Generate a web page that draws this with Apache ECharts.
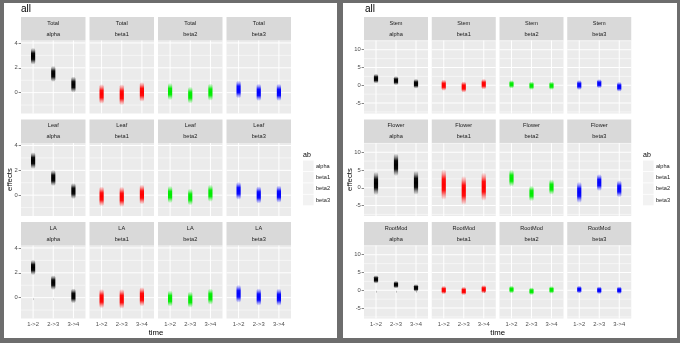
<!DOCTYPE html>
<html>
<head>
<meta charset="utf-8">
<script src="https://cdn.jsdelivr.net/npm/echarts@6/dist/echarts.min.js"></script>
<style>
  html, body { margin: 0; padding: 0; background: #6d6d6d; }
  #chart { width: 680px; height: 343px; }
</style>
</head>
<body>
<div id="chart"></div>
<script>
// ---- data ---------------------------------------------------------------
const timeSteps = ['1->2', '2->3', '3->4'];
const effectNames = ['alpha', 'beta1', 'beta2', 'beta3'];
const leftTraits = ['Total', 'Leaf', 'LA'];
const rightTraits = ['Stem', 'Flower', 'RootMod'];

const leftMajorTicks = [0, 2, 4];
const leftMinorTicks = [-1, 1, 3];
const rightMajorTicks = [-5, 0, 5, 10];
const rightMinorTicks = [-7.5, -2.5, 2.5, 7.5, 12.5];

// posterior centre of each effect (rows: alpha, beta1, beta2, beta3; cols: time steps)
const totalMean = [[2.93, 1.51, 0.65], [-0.11, -0.17, 0.06], [0.09, -0.20, 0.04], [0.26, 0.02, 0.02]];
const leafMean  = [[2.78, 1.38, 0.33], [-0.10, -0.14, 0.05], [0.05, -0.15, 0.15], [0.35, 0.02, 0.08]];
const laMean    = [[2.43, 1.21, 0.14], [-0.08, -0.10, 0.07], [-0.07, -0.16, 0.08], [0.31, 0.05, 0.03]];
const stemMean    = [[1.86, 1.29, 0.43], [0.00, -0.50, 0.30], [0.26, -0.13, -0.13], [0.06, 0.43, -0.43]];
const flowerMean  = [[1.20, 6.46, 1.40], [0.90, -0.77, 0.29], [2.70, -1.60, 0.20], [-1.30, 1.46, -0.30]];
const rootModMean = [[3.06, 1.58, 0.65], [0.05, -0.20, 0.28], [0.20, -0.28, 0.10], [0.20, 0.00, 0.00]];

// half-width of each posterior cloud
const totalSpread = [[0.68, 0.65, 0.65], [0.80, 0.85, 0.80], [0.70, 0.68, 0.70], [0.72, 0.70, 0.70]];
const leafSpread  = [[0.68, 0.65, 0.65], [0.80, 0.82, 0.80], [0.70, 0.68, 0.70], [0.72, 0.70, 0.70]];
const laSpread    = [[0.62, 0.60, 0.60], [0.78, 0.80, 0.78], [0.66, 0.66, 0.66], [0.72, 0.70, 0.70]];
const stemSpread    = [[1.40, 1.30, 1.40], [1.60, 1.60, 1.50], [1.20, 1.20, 1.20], [1.40, 1.30, 1.40]];
const flowerSpread  = [[3.30, 3.20, 3.40], [4.30, 4.10, 4.00], [2.40, 2.20, 2.20], [3.00, 2.40, 2.40]];
const rootModSpread = [[1.20, 1.10, 1.10], [1.20, 1.20, 1.20], [1.10, 1.10, 1.10], [1.10, 1.10, 1.10]];

// ---- styles & layout ----------------------------------------------------
const FONT = '"Liberation Sans", Arial, Helvetica, sans-serif';
const effectRGB = ['0,0,0', '255,0,0', '0,235,0', '0,0,255'];
const rowTop = 17, rowStep = 102.5, stripH = 23.5, panelH = 73;

const plots = [
  {
    traits: leftTraits, means: [totalMean, leafMean, laMean], spreads: [totalSpread, leafSpread, laSpread],
    yMin: -1.68, yMax: 4.2, major: leftMajorTicks, minor: leftMinorTicks,
    frame: [4, 3, 333, 335], colLeft: 21, colStep: 68.5, colW: 64.5,
    titleX: 21, yTitleX: 9.5, legendX: 303
  },
  {
    traits: rightTraits, means: [stemMean, flowerMean, rootModMean], spreads: [stemSpread, flowerSpread, rootModSpread],
    yMin: -7.95, yMax: 12.6, major: rightMajorTicks, minor: rightMinorTicks,
    frame: [343, 3, 334, 335], colLeft: 364, colStep: 67.75, colW: 64,
    titleX: 365, yTitleX: 350, legendX: 643
  }
];

function gridRenderer(major, minor, yMin, yMax) {
  return function (params, api) {
    const children = [];
    const hLine = (v, w) => {
      if (v < yMin || v > yMax) return;
      const a = api.coord([0.4, v]), b = api.coord([3.6, v]);
      children.push({ type: 'line', shape: { x1: a[0], y1: a[1], x2: b[0], y2: b[1] },
        style: { stroke: '#ffffff', lineWidth: w } });
    };
    minor.forEach(v => hLine(v, 0.5));
    major.forEach(v => hLine(v, 1));
    timeSteps.forEach((t, i) => {
      const a = api.coord([i + 1, yMin]), b = api.coord([i + 1, yMax]);
      children.push({ type: 'line', shape: { x1: a[0], y1: a[1], x2: b[0], y2: b[1] },
        style: { stroke: '#ffffff', lineWidth: 1 } });
    });
    return { type: 'group', children };
  };
}

function smearRenderer(rgb) {
  return function (params, api) {
    const x = api.value(0), m = api.value(1), s = api.value(2);
    const top = api.coord([x, m + s]);
    const bot = api.coord([x, m - s]);
    const w = 4.2;
    return {
      type: 'rect',
      shape: { x: top[0] - w / 2, y: top[1], width: w, height: bot[1] - top[1], r: w / 2 },
      style: {
        fill: new echarts.graphic.LinearGradient(0, 0, 0, 1, [
          { offset: 0, color: `rgba(${rgb},0)` },
          { offset: 0.16, color: `rgba(${rgb},0.4)` },
          { offset: 0.32, color: `rgba(${rgb},0.95)` },
          { offset: 0.5, color: `rgba(${rgb},1)` },
          { offset: 0.68, color: `rgba(${rgb},0.95)` },
          { offset: 0.84, color: `rgba(${rgb},0.4)` },
          { offset: 1, color: `rgba(${rgb},0)` }
        ])
      }
    };
  };
}

const grids = [], xAxes = [], yAxes = [], series = [], graphics = [];

plots.forEach(p => {
  const [fx, fy, fw, fh] = p.frame;
  graphics.push({ type: 'rect', shape: { x: fx, y: fy, width: fw, height: fh }, style: { fill: '#ffffff' }, z: -10 });
  graphics.push({ type: 'text', x: p.titleX, y: 9.5, style: { text: 'all', font: `10px ${FONT}`, fill: '#000', textAlign: 'left', textVerticalAlign: 'middle' } });

  const panelsLeft = p.colLeft;
  const panelsRight = p.colLeft + 3 * p.colStep + p.colW;
  const panelsTop = rowTop + stripH;
  const panelsBottom = rowTop + 2 * rowStep + stripH + panelH;
  graphics.push({ type: 'text', x: p.yTitleX, y: (panelsTop + panelsBottom) / 2, rotation: Math.PI / 2,
    style: { text: 'effects', font: `7.8px ${FONT}`, fill: '#000', textAlign: 'center', textVerticalAlign: 'middle' } });
  graphics.push({ type: 'text', x: (panelsLeft + panelsRight) / 2, y: 332.5,
    style: { text: 'time', font: `7.8px ${FONT}`, fill: '#000', textAlign: 'center', textVerticalAlign: 'middle' } });

  // legend
  graphics.push({ type: 'text', x: p.legendX, y: 155, style: { text: 'ab', font: `7px ${FONT}`, fill: '#000', textAlign: 'left', textVerticalAlign: 'middle' } });
  effectNames.forEach((name, k) => {
    const ky = 160.5 + k * 11.4;
    graphics.push({ type: 'rect', shape: { x: p.legendX, y: ky, width: 10.6, height: 10.6 }, style: { fill: '#f2f2f2' } });
    graphics.push({ type: 'text', x: p.legendX + 13, y: ky + 5.5, style: { text: name, font: `5.6px ${FONT}`, fill: '#1a1a1a', textAlign: 'left', textVerticalAlign: 'middle' } });
  });

  p.traits.forEach((trait, r) => {
    effectNames.forEach((eff, c) => {
      const left = p.colLeft + c * p.colStep;
      const sTop = rowTop + r * rowStep;
      const top = sTop + stripH;
      const g = grids.length;

      // facet strip
      graphics.push({ type: 'rect', shape: { x: left, y: sTop, width: p.colW, height: stripH }, style: { fill: '#d9d9d9' } });
      graphics.push({ type: 'text', x: left + p.colW / 2, y: sTop + 6.2, style: { text: trait, font: `5.6px ${FONT}`, fill: '#1a1a1a', textAlign: 'center', textVerticalAlign: 'middle' } });
      graphics.push({ type: 'text', x: left + p.colW / 2, y: sTop + 17.2, style: { text: eff, font: `5.6px ${FONT}`, fill: '#1a1a1a', textAlign: 'center', textVerticalAlign: 'middle' } });

      grids.push({ left, top, width: p.colW, height: panelH, show: true, backgroundColor: '#ebebeb', borderWidth: 0 });

      const showX = r === p.traits.length - 1;
      const showY = c === 0;
      xAxes.push({
        gridIndex: g, type: 'value', min: 0.4, max: 3.6,
        axisLine: { show: false }, splitLine: { show: false },
        axisTick: { show: showX, customValues: [1, 2, 3], length: 2.4, lineStyle: { color: '#333333', width: 0.6 } },
        axisLabel: { show: showX, customValues: [1, 2, 3], formatter: v => timeSteps[Math.round(v) - 1],
          fontSize: 5.8, fontFamily: FONT, color: '#4d4d4d', margin: 3.2 }
      });
      yAxes.push({
        gridIndex: g, type: 'value', min: p.yMin, max: p.yMax,
        axisLine: { show: false }, splitLine: { show: false },
        axisTick: { show: showY, customValues: p.major, length: 2.4, lineStyle: { color: '#333333', width: 0.6 } },
        axisLabel: { show: showY, customValues: p.major, fontSize: 5.8, fontFamily: FONT, color: '#4d4d4d', margin: 3.2 }
      });

      series.push({
        type: 'custom', name: 'grid', xAxisIndex: g, yAxisIndex: g, silent: true, z: 1,
        renderItem: gridRenderer(p.major, p.minor, p.yMin, p.yMax), data: [[1, 0]]
      });
      series.push({
        type: 'custom', name: eff, xAxisIndex: g, yAxisIndex: g, z: 2, clip: true,
        renderItem: smearRenderer(effectRGB[c]),
        encode: { x: 0, y: 1 },
        data: timeSteps.map((t, i) => [i + 1, p.means[r][c][i], p.spreads[r][c][i]])
      });
    });
  });
});

const chart = echarts.init(document.getElementById('chart'), null, { renderer: 'canvas' });
chart.setOption({
  animation: false,
  backgroundColor: '#6d6d6d',
  grid: grids,
  xAxis: xAxes,
  yAxis: yAxes,
  series,
  graphic: { elements: graphics }
});
</script>
</body>
</html>
